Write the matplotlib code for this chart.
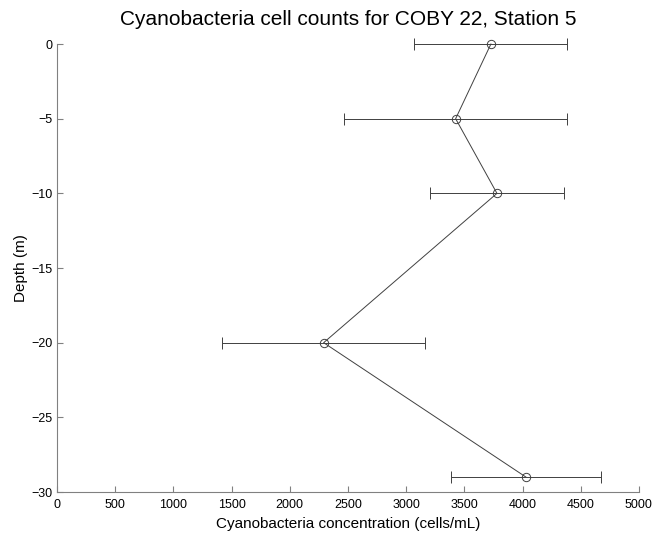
import matplotlib
matplotlib.use('Agg')
import matplotlib.pyplot as plt

plt.rcParams['font.family'] = ['Liberation Sans', 'DejaVu Sans']

depth = [0, -5, -10, -20, -29]
conc = [3728, 3425, 3780, 2291, 4029]
err = [657, 955, 576, 871, 645]

fig = plt.figure(figsize=(6.56, 5.33), dpi=100)
ax = fig.add_axes([0.0869, 0.0769, 0.8871, 0.8405])

ax.errorbar(conc, depth, xerr=err, color='#404040', lw=0.7, elinewidth=0.7,
            capsize=4, capthick=0.7, marker='o', markersize=6,
            markerfacecolor='none', markeredgecolor='#404040', markeredgewidth=0.7,
            clip_on=False)

ax.set_xlim(0, 5000)
ax.set_ylim(-30, 0)
ax.set_xticks(range(0, 5001, 500))
ax.set_yticks(range(-30, 1, 5))
ax.spines['top'].set_visible(False)
ax.spines['right'].set_visible(False)
for s in ('left', 'bottom'):
    ax.spines[s].set_color('#808080')
ax.tick_params(direction='in', length=4, labelsize=9, color='#808080')
ax.tick_params(axis='x', pad=5)
ax.set_xlabel('Cyanobacteria concentration (cells/mL)', fontsize=11, labelpad=4)
ax.set_ylabel('Depth (m)', fontsize=11, labelpad=2)
ax.set_title('Cyanobacteria cell counts for COBY 22, Station 5', fontsize=15, pad=14)

fig.savefig('out.png', dpi=100)
